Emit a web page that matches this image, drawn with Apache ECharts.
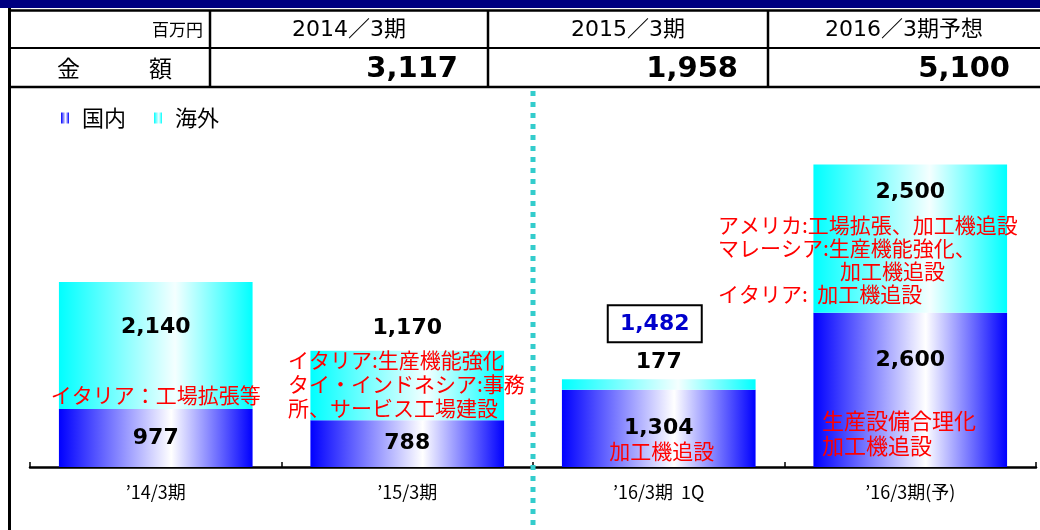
<!DOCTYPE html>
<html><head><meta charset="utf-8">
<script src="https://cdn.jsdelivr.net/npm/echarts@6/dist/echarts.min.js"></script>
<style>html,body{margin:0;padding:0;background:#fff}#c{width:1040px;height:530px}</style>
</head><body><div id="c"></div>
<script>
// ---- data ----
const categories = ['’14/3期', '’15/3期', '’16/3期  1Q', '’16/3期(予)'];
const domestic = [977, 788, 1304, 2600];
const overseas = [2140, 1170, 177, 2500];
const quarterTotal = 1482;
const seriesNames = ['国内', '海外'];
const tableUnit = '百万円';
const tableRowLabel = '金　　　額';
const tablePeriods = ['2014／3期', '2015／3期', '2016／3期予想'];
const tableAmounts = [3117, 1958, 5100];
const note14 = ['イタリア：工場拡張等'];
const note15 = ['イタリア:生産機能強化', 'タイ・インドネシア:事務', '所、サービス工場建設'];
const note16q = ['加工機追設'];
const note16fTop = ['アメリカ:工場拡張、加工機追設', 'マレーシア:生産機能強化、', '加工機追設', 'イタリア:  加工機追設'];
const note16fBottom = ['生産設備合理化', '加工機追設'];

const fmt = v => v.toLocaleString('en-US');
const JP = '"Noto Sans CJK JP", sans-serif';
const NUM = '"DejaVu Sans", "Noto Sans CJK JP", sans-serif';

const blueGrad = new echarts.graphic.LinearGradient(0, 0, 1, 0, [
  {offset: 0, color: '#0000ff'}, {offset: 0.58, color: '#ffffff'}, {offset: 1, color: '#0000ff'}]);
const cyanGrad = new echarts.graphic.LinearGradient(0, 0, 1, 0, [
  {offset: 0, color: '#00ffff'}, {offset: 0.6, color: '#f4ffff'}, {offset: 1, color: '#00ffff'}]);

const valLabel = {fontFamily: NUM, fontWeight: 'bold', fontSize: 22, color: '#000'};

const chart = echarts.init(document.getElementById('c'), null, {renderer: 'canvas'});

const domData = domestic.map((v, i) => {
  const d = {value: v};
  if (i === 3) d.label = {position: ['50%', '31%'], align: 'center', verticalAlign: 'middle'};
  return d;
});
const ovData = overseas.map((v, i) => {
  const d = {value: v};
  if (i === 0) d.label = {position: ['50%', '36%'], align: 'center', verticalAlign: 'middle'};
  if (i === 1) d.label = {position: 'top', distance: 12};
  if (i === 2) d.label = {position: 'top', distance: 6};
  if (i === 3) d.label = {position: ['50%', '19%'], align: 'center', verticalAlign: 'middle'};
  return d;
});

chart.setOption({
  animation: false,
  backgroundColor: '#fff',
  grid: {left: 30, right: 4, top: 111, bottom: 63},
  legend: {
    left: 56, top: 102, itemWidth: 8, itemHeight: 11, itemGap: 28, icon: 'rect',
    textStyle: {fontFamily: JP, fontSize: 22, color: '#000', padding: [0, 0, 0, 8]},
    data: seriesNames
  },
  xAxis: {
    type: 'category', data: categories,
    axisLine: {lineStyle: {color: '#000', width: 2.5}},
    axisTick: {show: true, inside: true, length: 5, lineStyle: {color: '#000', width: 1.5}},
    axisLabel: {fontFamily: JP, fontSize: 18, color: '#000', margin: 16}
  },
  yAxis: {type: 'value', min: 0, max: 6000, show: false, splitLine: {show: false}},
  series: [
    {name: seriesNames[0], type: 'bar', stack: 't', barWidth: '77%', data: domData,
     itemStyle: {color: blueGrad},
     label: {show: true, position: 'inside', formatter: p => fmt(p.value), ...valLabel}},
    {name: seriesNames[1], type: 'bar', stack: 't', barWidth: '77%', data: ovData,
     itemStyle: {color: cyanGrad},
     label: {show: true, position: 'inside', formatter: p => fmt(p.value), ...valLabel}}
  ]
});

// ---- header table and annotations ----
const g = [];
const line = (x1, y1, x2, y2, w) => g.push({type: 'line', shape: {x1, y1, x2, y2}, style: {stroke: '#000', lineWidth: w}, z: 10});
const text = (t, x, y, opts) => g.push({type: 'text', x, y, z: 11, style: Object.assign({text: t, fill: '#000', verticalAlign: 'middle'}, opts)});

g.push({type: 'rect', shape: {x: 0, y: 0, width: 1040, height: 8}, style: {fill: '#000080'}, z: 10});
line(8, 10.5, 1040, 10.5, 2.5);
line(8, 48, 1040, 48, 2);
line(8, 87, 1040, 87, 2.5);
line(9.5, 8, 9.5, 530, 3);
const colX = [210, 488, 768, 1040];
colX.slice(0, 3).forEach(x => line(x, 10, x, 87, 2.5));
text(tableUnit, 203, 30, {font: '17px ' + JP, align: 'right'});
tablePeriods.forEach((t, i) => text(t, (colX[i] + colX[i + 1]) / 2, 30, {font: '22px ' + NUM, align: 'center'}));
text(tableRowLabel, 57, 68, {font: '23px ' + JP, align: 'left'});
tableAmounts.forEach((v, i) => text(fmt(v), colX[i + 1] - 30, 69, {font: 'bold 29px ' + NUM, align: 'right'}));

const cx = i => chart.convertToPixel({xAxisIndex: 0}, i);
const yv = v => chart.convertToPixel({yAxisIndex: 0}, v);

// dotted divider between categories 2 and 3
const divX = (cx(1) + cx(2)) / 2;
g.push({type: 'line', shape: {x1: divX, y1: 91, x2: divX, y2: 530}, style: {stroke: '#33cccc', lineWidth: 5, lineDash: [5, 6]}, z: 5});

const red = {font: '21px ' + JP, fill: '#ff0000'};
note14.forEach((t, k) => text(t, cx(0), 395 + k * 24, Object.assign({align: 'center'}, red)));
note15.forEach((t, k) => text(t, 288, 360 + k * 24, Object.assign({align: 'left'}, red)));
note16q.forEach((t, k) => text(t, cx(2) + 3, 451 + k * 24, Object.assign({align: 'center'}, red)));
note16fTop.forEach((t, k) => text(t, k === 2 ? 840 : 718, 225 + k * 23, Object.assign({align: 'left'}, red)));
note16fBottom.forEach((t, k) => text(t, 822, 421 + k * 25, Object.assign({align: 'left'}, red, {font: '22px ' + JP})));

// boxed quarter total
const topY = yv(domestic[2] + overseas[2]);
g.push({type: 'rect', shape: {x: cx(2) - 51, y: topY - 74, width: 94, height: 37}, style: {fill: '#fff', stroke: '#000', lineWidth: 2}, z: 10});
text(fmt(quarterTotal), cx(2) - 4, topY - 55, {font: 'bold 22px ' + NUM, fill: '#0000cc', align: 'center'});

chart.setOption({graphic: g});
</script></body></html>
